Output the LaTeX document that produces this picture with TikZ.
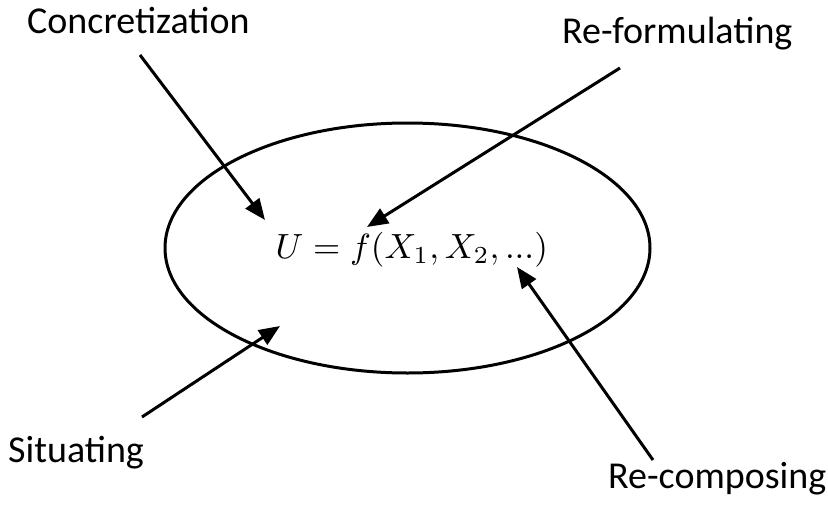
\documentclass[tikz,border=0pt]{standalone}
\usepackage{fontspec}
\setmainfont{Carlito}
\usetikzlibrary{arrows.meta}
\begin{document}
\begin{tikzpicture}[x=1pt,y=-1pt,
  lbl/.style={anchor=base west,inner sep=0pt,font=\fontsize{38}{44}\selectfont},
  conn/.style={line width=3pt,-{Triangle[length=21pt,width=17pt]}},
  ring/.style={draw,line width=3pt}]
\useasboundingbox (0,0) rectangle (828,506);
\draw[ring] (407.5,248) ellipse [x radius=242.5, y radius=125];
\node[anchor=base west,inner sep=0pt,scale=3.5,transform shape=false] (eq) at (275,258) {$U=f(X_1,X_2,...)$};
\node[lbl] (conc) at (27,33) {Concretization};
\node[lbl] (refo) at (562,43) {Re-formulating};
\node[lbl] (situ) at (8,462) {Situating};
\node[lbl] (reco) at (608,488) {Re-composing};
\coordinate (s1) at (140,55);
\coordinate (t1) at (265,220);
\coordinate (s2) at (620,68);
\coordinate (t2) at (367,227);
\coordinate (s3) at (142,417);
\coordinate (t3) at (280,326);
\coordinate (s4) at (653,460);
\coordinate (t4) at (517,267);
\draw[conn] (s1) -- (t1);
\draw[conn] (s2) -- (t2);
\draw[conn] (s3) -- (t3);
\draw[conn] (s4) -- (t4);
\end{tikzpicture}
\end{document}
